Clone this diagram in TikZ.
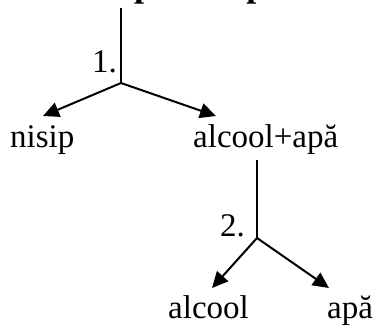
\documentclass[tikz,border=0pt]{standalone}
\usepackage{fontspec}
\setmainfont{Liberation Serif}
\usetikzlibrary{arrows.meta}
\begin{document}
\begin{tikzpicture}[x=1pt,y=-1pt,
  lbl/.style={inner sep=0pt,anchor=base west,font=\fontsize{33}{38}\selectfont},
  num/.style={inner sep=0pt,anchor=base east,font=\fontsize{33}{38}\selectfont},
  ln/.style={line width=2pt},
  arr/.style={line width=2pt,-{Triangle[length=16pt,width=15pt]}}]
\useasboundingbox (0,0) rectangle (374,329);
\begin{scope}
\clip (0,0) rectangle (374,329);
\node[inner sep=0pt,anchor=base west,font=\fontsize{36}{40}\selectfont\bfseries] (title) at (104,-3) {separare prin};
\end{scope}
% first split
\coordinate (t1) at (121,8);
\coordinate (j1) at (121,83);
\coordinate (l1) at (43,116);
\coordinate (r1) at (216,116);
\draw[ln] (t1) -- (j1);
\draw[arr] (j1) -- (l1);
\draw[arr] (j1) -- (r1);
\node[num] (n1) at (117,72) {1.};
\node[lbl] (nisip) at (10,147) {nisip};
\node[lbl] (mix) at (193,147) {alcool+apă};
% second split
\coordinate (t2) at (257,160);
\coordinate (j2) at (257,238);
\coordinate (l2) at (212,288);
\coordinate (r2) at (329,288);
\draw[ln] (t2) -- (j2);
\draw[arr] (j2) -- (l2);
\draw[arr] (j2) -- (r2);
\node[num] (n2) at (245,236) {2.};
\node[lbl] (alcool) at (168,318) {alcool};
\node[lbl] (apa) at (327,318) {apă};
\end{tikzpicture}
\end{document}
